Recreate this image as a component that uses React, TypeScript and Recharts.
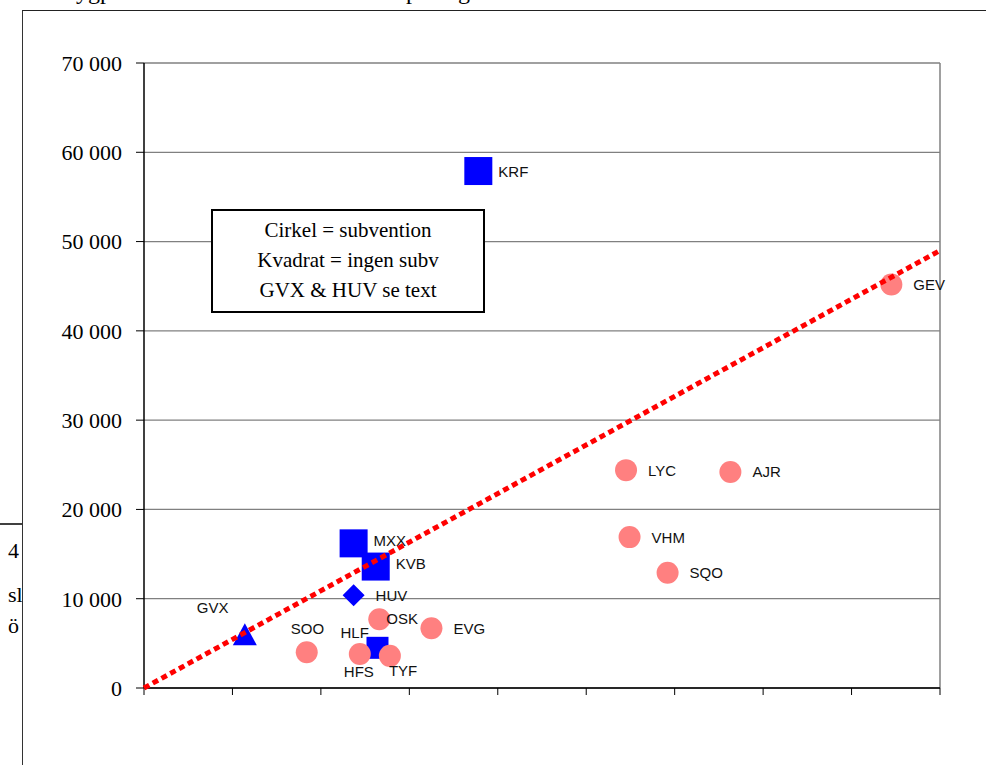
import React from "react";
import {
  ScatterChart,
  Scatter,
  XAxis,
  YAxis,
  CartesianGrid,
  ReferenceLine,
} from "recharts";

// airports with subvention (circles)
const subvNames = ["SOO", "HFS", "TYF", "OSK", "EVG", "LYC", "AJR", "VHM", "SQO", "GEV"];
const subvX = [184, 244, 278, 266, 325, 545, 663, 549, 592, 845];
const subvY = [4000, 3800, 3600, 7700, 6700, 24400, 24200, 16900, 12900, 45200];

// airports without subvention (squares)
const ingenNames = ["HLF", "MXX", "KVB", "KRF"];
const ingenX = [264, 237, 262, 378];
const ingenY = [4500, 16200, 13600, 57900];

// special cases, see text
const gvxPoint = [{ name: "GVX", x: 114, y: 5800 }];
const huvPoint = [{ name: "HUV", x: 237, y: 10400 }];

// trend line
const trendX = [0, 900];
const trendY = [0, 49000];

const yTicks = [0, 10000, 20000, 30000, 40000, 50000, 60000, 70000];
const xTicks = [0, 100, 200, 300, 400, 500, 600, 700, 800, 900];

const boxLines = ["Cirkel = subvention", "Kvadrat = ingen subv", "GVX & HUV se text"];

const toRows = (names: string[], xs: number[], ys: number[]) =>
  names.map((name, i) => ({ name, x: xs[i], y: ys[i] }));

const subvData = toRows(subvNames, subvX, subvY);
const ingenData = toRows(ingenNames, ingenX, ingenY);
const trendData = trendX.map((x, i) => ({ x, y: trendY[i] }));

// label placement relative to the marker centre
const labelNudge: Record<string, [number, number]> = {
  GVX: [-48, -29],
  SOO: [-16, -24],
  HLF: [-37, -15],
  OSK: [7, -1],
  HFS: [-16, 17],
  TYF: [-1, 15],
  MXX: [20, -3],
  KVB: [20, -3],
  KRF: [20, 0],
};
const squareSize: Record<string, number> = { HLF: 22 };

const SERIF = '"Liberation Serif", "Times New Roman", serif';
const SANS = '"Liberation Sans", Arial, sans-serif';
const BLUE = "#0000FF";
const PINK = "#FF8080";

const Label = ({ cx, cy, name }: { cx: number; cy: number; name: string }) => {
  const [dx, dy] = labelNudge[name] || [22, 0];
  return (
    <text
      x={cx + dx}
      y={cy + dy}
      dominantBaseline="central"
      textAnchor="start"
      fontFamily={SANS}
      fontSize={15}
      fill="#111"
    >
      {name}
    </text>
  );
};

const Circle = (props: any) => {
  const { cx, cy, payload } = props;
  return (
    <g>
      <circle cx={cx} cy={cy} r={11} fill={PINK} />
      <Label cx={cx} cy={cy} name={payload.name} />
    </g>
  );
};

const Square = (props: any) => {
  const { cx, cy, payload } = props;
  const s = squareSize[payload.name] || 28;
  return (
    <g>
      <rect x={cx - s / 2} y={cy - s / 2} width={s} height={s} fill={BLUE} />
      <Label cx={cx} cy={cy} name={payload.name} />
    </g>
  );
};

const Diamond = (props: any) => {
  const { cx, cy, payload } = props;
  const h = 11;
  return (
    <g>
      <polygon
        points={`${cx},${cy - h} ${cx + h},${cy} ${cx},${cy + h} ${cx - h},${cy}`}
        fill={BLUE}
      />
      <Label cx={cx} cy={cy} name={payload.name} />
    </g>
  );
};

const Triangle = (props: any) => {
  const { cx, cy, payload } = props;
  return (
    <g>
      <polygon
        points={`${cx},${cy - 13} ${cx + 12},${cy + 9} ${cx - 12},${cy + 9}`}
        fill={BLUE}
      />
      <Label cx={cx} cy={cy} name={payload.name} />
    </g>
  );
};

const fmt = (v: number) => (v === 0 ? "0" : `${Math.round(v / 1000)} 000`);

export default function App() {
  return (
    <div
      style={{
        position: "absolute",
        left: 0,
        top: 0,
        width: 986,
        height: 765,
        overflow: "hidden",
        background: "#fff",
      }}
    >
      {/* bits of the surrounding document */}
      <svg width={986} height={765} style={{ position: "absolute", left: 0, top: 0 }}>
        <text x={56} y={-1} fontFamily={SERIF} fontSize={24} fill="#000">
          Flygplatser
        </text>
        <text x={406} y={-1} fontFamily={SERIF} fontSize={24} fill="#000">
          passagerare
        </text>
        <line x1={0} y1={524} x2={22} y2={524} stroke="#000" strokeWidth={1.5} />
        <text x={8} y={558} fontFamily={SERIF} fontSize={22} fill="#000">4</text>
        <text x={8} y={602} fontFamily={SERIF} fontSize={22} fill="#000">sl</text>
        <text x={8} y={633} fontFamily={SERIF} fontSize={22} fill="#000">ö</text>
      </svg>

      {/* chart frame */}
      <div
        style={{
          position: "absolute",
          left: 22,
          top: 10,
          right: -2,
          bottom: -2,
          borderLeft: "1.5px solid #333",
          borderTop: "1.5px solid #222",
          background: "#fff",
        }}
      />

      <div style={{ position: "absolute", left: 0, top: 0 }}>
        <ScatterChart
          width={986}
          height={765}
          margin={{ top: 63, right: 46, bottom: 47, left: 44 }}
        >
          <CartesianGrid vertical={false} stroke="#808080" strokeWidth={1.3} />
          <XAxis
            type="number"
            dataKey="x"
            domain={[0, 900]}
            ticks={xTicks}
            tickFormatter={() => ""}
            height={30}
            tickSize={7}
            axisLine={{ stroke: "#000", strokeWidth: 1.5 }}
            tickLine={{ stroke: "#000" }}
          />
          <YAxis
            type="number"
            dataKey="y"
            domain={[0, 70000]}
            ticks={yTicks}
            tickFormatter={fmt}
            width={100}
            tickSize={8}
            tickMargin={14}
            axisLine={{ stroke: "#000", strokeWidth: 1.5 }}
            tickLine={{ stroke: "#000" }}
            tick={{ fill: "#000", fontSize: 22, fontFamily: SERIF }}
          />
          <ReferenceLine x={900} stroke="#808080" strokeWidth={1.5} />
          <Scatter data={gvxPoint} shape={Triangle} isAnimationActive={false} />
          <Scatter data={huvPoint} shape={Diamond} isAnimationActive={false} />
          <Scatter data={ingenData} shape={Square} isAnimationActive={false} />
          <Scatter data={subvData} shape={Circle} isAnimationActive={false} />
          <Scatter
            data={trendData}
            shape={() => <g />}
            line={{ stroke: "#FF0000", strokeWidth: 5, strokeDasharray: "6 4" }}
            isAnimationActive={false}
          />
        </ScatterChart>
      </div>

      {/* note box */}
      <div
        style={{
          position: "absolute",
          left: 211,
          top: 209,
          width: 274,
          height: 104,
          boxSizing: "border-box",
          border: "2px solid #000",
          background: "#fff",
          fontFamily: SERIF,
          fontSize: 21,
          lineHeight: "30px",
          paddingTop: 4,
          textAlign: "center",
          color: "#000",
        }}
      >
        {boxLines.map((l) => (
          <div key={l}>{l}</div>
        ))}
      </div>
    </div>
  );
}
